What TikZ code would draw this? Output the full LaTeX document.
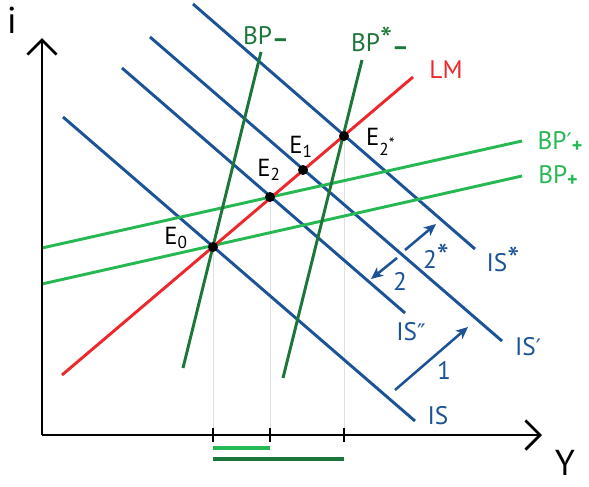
\documentclass[tikz,border=0pt]{standalone}
\usepackage{fontspec}
\usepackage{graphicx}
\setmainfont{PT Sans}
\newfontfamily\primefont{DejaVu Sans}
\usetikzlibrary{arrows.meta}
\definecolor{isblue}{RGB}{28,82,150}
\definecolor{lmred}{RGB}{236,40,45}
\definecolor{bpdark}{RGB}{28,118,58}
\definecolor{bplight}{RGB}{38,184,82}
\newcommand{\subplus}{\raisebox{-0.12em}{\fontsize{15}{15}\selectfont\bfseries +}}
\newcommand{\subminus}{\raisebox{-0.14em}{\bfseries --}}
\newcommand{\bigstar}{\scalebox{1.35}{*}}
\newcommand{\oneprime}{{\primefont\scalebox{0.9}{′}}}
\newcommand{\twoprime}{{\primefont\scalebox{0.9}{″}}}
\begin{document}
\begin{tikzpicture}[x=0.75pt,y=-0.75pt,
  curve/.style={line width=2.2pt},
  isline/.style={curve, draw=isblue},
  lmline/.style={curve, draw=lmred},
  bpd/.style={curve, draw=bpdark},
  bpl/.style={curve, draw=bplight},
  lab/.style={font=\fontsize{19}{21}\selectfont, inner sep=0pt},
  elab/.style={font=\fontsize{18.5}{20}\selectfont, inner sep=0pt, text=black},
  dot/.style={circle, fill=black, inner sep=0pt, minimum size=7.5pt},
  guide/.style={draw=black!12, line width=0.7pt},
  axis/.style={line width=2pt, draw=black},
  shiftarrow/.style={line width=1.9pt, draw=isblue, -{Stealth[length=9pt,width=8pt,inset=2.5pt]}},
  barb/.style={-{Straight Barb[length=11pt,width=22pt]}}
]
\useasboundingbox (0,0) rectangle (589,486);

% equilibrium points
\coordinate (pE0) at (213,247);
\coordinate (pE2) at (270,197);
\coordinate (pE1) at (303,170);
\coordinate (pE2s) at (344,136);

% axes coordinates
\coordinate (O) at (42,435);
\coordinate (ytip) at (42,38);
\coordinate (xtip) at (542,435);

% guide lines
\draw[guide] (pE0) -- (pE0 |- O);
\draw[guide] (pE2) -- (pE2 |- O);
\draw[guide] (pE2s) -- (pE2s |- O);

% IS curves
\coordinate (is0a) at (63,117);   \coordinate (is0b) at (415,421);
\coordinate (is2a) at (122,68);   \coordinate (is2b) at (405,313);
\coordinate (is1a) at (150,37);   \coordinate (is1b) at (502,341);
\coordinate (issa) at (193,4);    \coordinate (issb) at (475,249);
\draw[isline] (is0a) -- (is0b);
\draw[isline] (is2a) -- (is2b);
\draw[isline] (is1a) -- (is1b);
\draw[isline] (issa) -- (issb);

% BP+ curves
\coordinate (bpa) at (42,284);   \coordinate (bpb) at (522,176);
\coordinate (bppa) at (42,248);  \coordinate (bppb) at (522,141);
\draw[bpl] (bpa) -- (bpb);
\draw[bpl] (bppa) -- (bppb);

% LM
\coordinate (lma) at (62,375); \coordinate (lmb) at (413,77);
\draw[lmline] (lma) -- (lmb);

% BP- curves
\coordinate (bpma) at (183,368); \coordinate (bpmb) at (261,52);
\coordinate (bpsa) at (283,378); \coordinate (bpsb) at (362,60);
\draw[bpd] (bpma) -- (bpmb);
\draw[bpd] (bpsa) -- (bpsb);

% axes
\draw[axis, barb] (O) -- (ytip);
\draw[axis, barb] (O) -- (xtip);

% ticks
\foreach \p in {pE0,pE2,pE2s}{
  \draw[axis] ([yshift=5.5pt]\p |- O) -- ([yshift=-5.5pt]\p |- O);
}

% bars
\coordinate (barLa) at (213,448); \coordinate (barLb) at (270,448);
\coordinate (barDa) at (213,459); \coordinate (barDb) at (344,459);
\draw[bplight, line width=3pt] (barLa) -- (barLb);
\draw[bpdark, line width=3pt] (barDa) -- (barDb);

% dots
\node[dot] (E0) at (pE0) {};
\node[dot] (E2) at (pE2) {};
\node[dot] (E1) at (pE1) {};
\node[dot] (E2s) at (pE2s) {};

% shift arrows
\coordinate (a1s) at (395,390); \coordinate (a1e) at (468,327);
\coordinate (a2s) at (397,258); \coordinate (a2e) at (371,279);
\coordinate (a3s) at (405,250); \coordinate (a3e) at (436,224);
\draw[shiftarrow] (a1s) -- (a1e);
\draw[shiftarrow] (a2s) -- (a2e);
\draw[shiftarrow] (a3s) -- (a3e);

% labels
\node[font=\fontsize{28}{30}\selectfont, inner sep=0pt] (ilab) at (12,20) {i};
\node[font=\fontsize{27}{29}\selectfont, inner sep=0pt] (Ylab) at (565,463) {Y};

\node[lab, text=bpdark] (lBPm) at (266,37) {BP\subminus};
\node[lab, text=bpdark] (lBPsm) at (380,41) {BP\bigstar\subminus};
\node[lab, text=lmred] (lLM) at (446,70) {LM};
\node[lab, text=bplight] (lBPp) at (560,142) {BP\oneprime\subplus};
\node[lab, text=bplight] (lBPpl) at (558,176) {BP\subplus};

\node[lab, text=isblue] (lIS) at (438,416) {IS};
\node[lab, text=isblue] (lISdd) at (411,332) {IS\twoprime};
\node[lab, text=isblue] (lISd) at (528,347) {IS\oneprime};
\node[lab, text=isblue] (lISs) at (503,259) {IS\bigstar};
\node[lab, text=isblue] (l1) at (444,370) {1};
\node[lab, text=isblue] (l2) at (400,281) {2};
\node[lab, text=isblue] (l2s) at (436,256) {2\bigstar};

\node[elab] (lE0) at (176,238) {E\textsubscript{0}};
\node[elab] (lE2) at (269,170) {E\textsubscript{2}};
\node[elab] (lE1) at (301,147) {E\textsubscript{1}};
\node[elab] (lE2s) at (381,142) {E\textsubscript{2\textsuperscript{\bigstar}}};
\end{tikzpicture}
\end{document}
